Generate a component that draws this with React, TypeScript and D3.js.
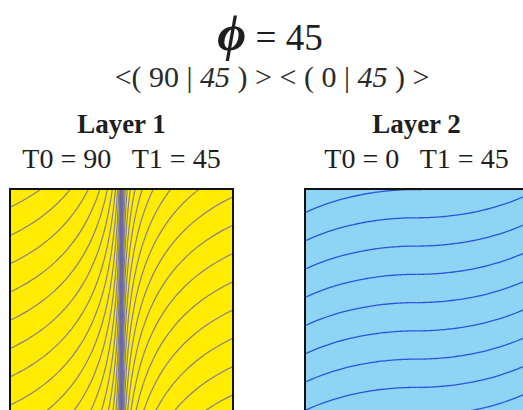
import React from "react";
import * as d3 from "d3";

// Laminate description: rotation angle and per-layer fibre angles (degrees)
const phi = 45;
const layerNames = ["Layer 1", "Layer 2"];
const theta0 = [90, 0]; // fibre angle at the plate centre line
const theta1 = [45, 45]; // fibre angle at the plate edges
const fillColors = ["#ffec00", "#8dd4f5"];
const fiberColors = ["#6a6aaa", "#2b55e0"];
const fiberOpacity = [0.82, 1];
const fiberWidth = [1.2, 1.3];
const fiberPhase = [4.01, 3.71]; // reference offset of the fibre family (plate units)
const fiberSpacing = 0.54; // vertical spacing between neighbouring fibres (plate units)

const W = 523;
const H = 410;
const panelW = 223;
const panelH = 223;
const panelTop = 189;
const panelLeft = [10, 305];
const plateHeight = 4.26; // plate spans x in [-1, 1], y in [0, plateHeight]

const serif = "'Liberation Serif', 'DejaVu Serif', 'Times New Roman', serif";
const rad = Math.PI / 180;

// Integral of tan(theta(t)) with theta varying linearly from T0 (t = 0) to T1 (t = 1)
function fiberRise(t: number, a0: number, a1: number): number {
  const b = (a1 - a0) * rad;
  const th = (a0 + (a1 - a0) * t) * rad;
  if (Math.abs(b) < 1e-9) return Math.tan(a0 * rad) * t;
  return -Math.log(Math.abs(Math.cos(th))) / b;
}

function Panel({ idx }: { idx: number }) {
  const x0 = panelLeft[idx];
  const xScale = d3.scaleLinear().domain([-1, 1]).range([x0, x0 + panelW]);
  const yScale = d3.scaleLinear().domain([0, plateHeight]).range([panelTop + panelH, panelTop]);
  const a0 = theta0[idx];
  const a1 = theta1[idx];
  const centreFinite = Math.abs(Math.cos(a0 * rad)) > 1e-6;

  // parameter samples, dense toward the centre line
  const ts = d3.range(0, 241).map((i) => Math.pow(10, -6 + (6 * i) / 240));
  if (centreFinite) ts.unshift(0);

  const line = d3
    .line<[number, number]>()
    .x((d) => xScale(d[0]))
    .y((d) => yScale(d[1]));

  const offsets = d3.range(-12, 22).map((k) => fiberPhase[idx] - k * fiberSpacing);
  const paths: string[] = [];
  offsets.forEach((c) => {
    const right: [number, number][] = ts.map((t) => [t, c + fiberRise(t, a0, a1)]);
    const left: [number, number][] = ts.map((t) => [-t, c - fiberRise(t, a0, a1)]);
    paths.push(line(right) as string);
    paths.push(line(left) as string);
  });

  const clipId = `plate-clip-${idx}`;
  const cx = x0 + panelW / 2;
  return (
    <g>
      <text x={cx} y={133} textAnchor="middle" fontFamily={serif} fontWeight="bold" fontSize={27} fill="#1e1e1e">
        {layerNames[idx]}
      </text>
      <text x={cx} y={168} textAnchor="middle" fontFamily={serif} fontSize={28} fill="#1e1e1e" xmlSpace="preserve">
        {`T0 = ${a0}   T1 = ${a1}`}
      </text>
      <defs>
        <clipPath id={clipId}>
          <rect x={x0} y={panelTop} width={panelW} height={panelH} />
        </clipPath>
      </defs>
      <rect x={x0} y={panelTop} width={panelW} height={panelH} fill={fillColors[idx]} />
      <g clipPath={`url(#${clipId})`}>
        {paths.map((d, i) => (
          <path
            key={i}
            d={d}
            fill="none"
            stroke={fiberColors[idx]}
            strokeOpacity={fiberOpacity[idx]}
            strokeWidth={fiberWidth[idx]}
          />
        ))}
      </g>
      <rect x={x0} y={panelTop} width={panelW} height={panelH} fill="none" stroke="#111" strokeWidth={2} />
    </g>
  );
}

export default function App() {
  return (
    <svg
      width={W}
      height={H}
      viewBox={`0 0 ${W} ${H}`}
      style={{ position: "absolute", left: 0, top: 0, background: "#fff" }}
    >
      <text x={270} y={50} textAnchor="middle" fontFamily={serif} fill="#1e1e1e">
        <tspan fontSize={50} fontWeight="bold" fontStyle="italic">ϕ</tspan>
        <tspan fontSize={37}>{` = ${phi}`}</tspan>
      </text>
      <text x={272} y={87} textAnchor="middle" fontFamily={serif} fontSize={30} fill="#2a2a2a" xmlSpace="preserve">
        <tspan>{`<( ${theta0[0]} | `}</tspan>
        <tspan fontStyle="italic">{`${theta1[0]}`}</tspan>
        <tspan>{` ) > < ( ${theta0[1]} | `}</tspan>
        <tspan fontStyle="italic">{`${theta1[1]}`}</tspan>
        <tspan>{` ) >`}</tspan>
      </text>
      {layerNames.map((_, i) => (
        <Panel key={i} idx={i} />
      ))}
    </svg>
  );
}
